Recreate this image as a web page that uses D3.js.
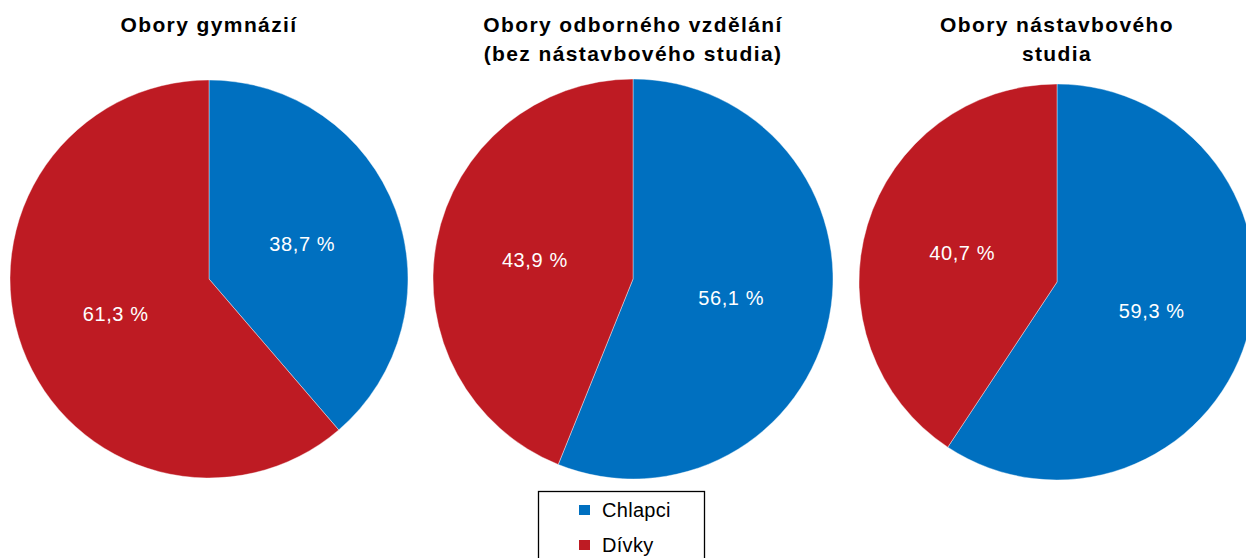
<!DOCTYPE html>
<html><head><meta charset="utf-8">
<script src="https://cdn.jsdelivr.net/npm/d3@7"></script>
<style>body{margin:0;background:#fff;}svg{display:block;font-family:"Liberation Sans",Arial,sans-serif;}</style>
</head><body>
<svg id="c" width="1246" height="558"></svg>
<script>
const categories = ["Chlapci", "Dívky"];
const titles = [["Obory gymnázií"], ["Obory odborného vzdělání", "(bez nástavbového studia)"], ["Obory nástavbového", "studia"]];
const gymnazia = [38.7, 61.3];
const odborne = [56.1, 43.9];
const nastavbove = [59.3, 40.7];
const seriesValues = [gymnazia, odborne, nastavbove];
const colors = ["#0070C0", "#BE1B23"];

const svg = d3.select("#c");
const centers = [{x: 209, y: 279, r: 199}, {x: 633, y: 279, r: 200}, {x: 1057, y: 282, r: 198}];
const color = d3.scaleOrdinal().domain(categories).range(colors);
const pie = d3.pie().sort(null).value(d => d.v);
const fmt = v => d3.format(".1f")(v).replace(".", ",") + " %";

seriesValues.forEach((vals, i) => {
  const c = centers[i];
  const g = svg.append("g").attr("transform", `translate(${c.x},${c.y})`);
  const data = pie(vals.map((v, j) => ({v, cat: categories[j]})));
  const arc = d3.arc().innerRadius(0).outerRadius(c.r);
  const lab = d3.arc().innerRadius(c.r * 0.5).outerRadius(c.r * 0.5);
  g.selectAll("path").data(data).join("path")
    .attr("d", arc).attr("fill", d => color(d.data.cat))
    .attr("stroke", "#ffffff").attr("stroke-width", 0.4);
  g.selectAll("text.l").data(data).join("text").attr("class", "l")
    .attr("transform", d => `translate(${lab.centroid(d)})`)
    .attr("text-anchor", "middle").attr("dy", "0.35em")
    .attr("fill", "#fff").attr("font-size", 20).attr("letter-spacing", 0.6)
    .text(d => fmt(d.data.v));
  const t = svg.append("text").attr("text-anchor", "middle")
    .attr("font-weight", "bold").attr("font-size", 21).attr("letter-spacing", 1.4).attr("fill", "#000");
  titles[i].forEach((line, k) => {
    t.append("tspan").attr("x", c.x).attr("y", 32 + k * 29).text(line);
  });
});

// legend
const lg = svg.append("g");
lg.append("rect").attr("x", 538.5).attr("y", 491.5).attr("width", 166).attr("height", 90)
  .attr("fill", "#fff").attr("stroke", "#000").attr("stroke-width", 1.3);
categories.forEach((cat, j) => {
  const y = 510 + j * 35;
  lg.append("rect").attr("x", 579).attr("y", y - 5).attr("width", 11).attr("height", 10).attr("fill", color(cat));
  lg.append("text").attr("x", 602).attr("y", y).attr("dy", "0.35em")
    .attr("font-size", 20).attr("letter-spacing", 0.3).attr("fill", "#000").text(cat);
});
</script>
</body></html>
